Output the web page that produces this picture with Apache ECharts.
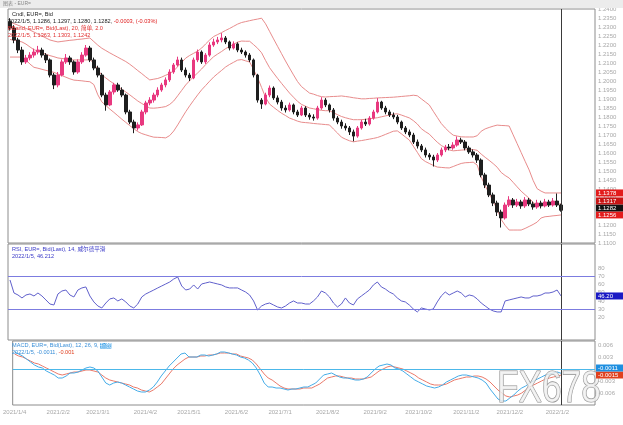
<!DOCTYPE html>
<html><head><meta charset="utf-8">
<script src="https://cdn.jsdelivr.net/npm/echarts@6/dist/echarts.min.js"></script>
<style>html,body{margin:0;padding:0;background:#fff}#c{width:623px;height:425px}</style>
</head><body><div id="c"></div>
<script>
const categories = ["2021/1/4","2021/1/7","2021/1/9","2021/1/12","2021/1/15","2021/1/17","2021/1/20","2021/1/23","2021/1/25","2021/1/28",
"2021/1/31","2021/2/2","2021/2/5","2021/2/7","2021/2/10","2021/2/13","2021/2/15","2021/2/18","2021/2/21","2021/2/23",
"2021/2/26","2021/3/1","2021/3/3","2021/3/6","2021/3/9","2021/3/11","2021/3/14","2021/3/17","2021/3/19","2021/3/22",
"2021/3/25","2021/3/27","2021/3/30","2021/4/2","2021/4/4","2021/4/7","2021/4/9","2021/4/12","2021/4/15","2021/4/17",
"2021/4/20","2021/4/23","2021/4/25","2021/4/28","2021/5/1","2021/5/3","2021/5/6","2021/5/9","2021/5/11","2021/5/14",
"2021/5/17","2021/5/19","2021/5/22","2021/5/25","2021/5/27","2021/5/30","2021/6/2","2021/6/4","2021/6/7","2021/6/9",
"2021/6/12","2021/6/15","2021/6/17","2021/6/20","2021/6/23","2021/6/25","2021/6/28","2021/7/1","2021/7/3","2021/7/6",
"2021/7/9","2021/7/11","2021/7/14","2021/7/17","2021/7/19","2021/7/22","2021/7/25","2021/7/27","2021/7/30","2021/8/2",
"2021/8/4","2021/8/7","2021/8/9","2021/8/12","2021/8/15","2021/8/17","2021/8/20","2021/8/23","2021/8/25","2021/8/28",
"2021/8/31","2021/9/2","2021/9/5","2021/9/8","2021/9/10","2021/9/13","2021/9/16","2021/9/18","2021/9/21","2021/9/24",
"2021/9/26","2021/9/29","2021/10/2","2021/10/4","2021/10/7","2021/10/9","2021/10/12","2021/10/15","2021/10/17","2021/10/20",
"2021/10/23","2021/10/25","2021/10/28","2021/10/31","2021/11/2","2021/11/5","2021/11/8","2021/11/10","2021/11/13","2021/11/16",
"2021/11/18","2021/11/21","2021/11/24","2021/11/26","2021/11/29","2021/12/2","2021/12/4","2021/12/7","2021/12/9","2021/12/12",
"2021/12/15","2021/12/17","2021/12/20","2021/12/23","2021/12/25","2021/12/28","2021/12/31","2022/1/2","2022/1/5"];

const opens = [1.2330,1.2294,1.2228,1.2172,1.2106,1.2128,1.2144,1.2161,1.2172,1.2144,
1.2117,1.2033,1.1978,1.2033,1.2106,1.2128,1.2106,1.2050,1.2106,1.2144,
1.2183,1.2117,1.2072,1.2033,1.1922,1.1867,1.1939,1.1978,1.1950,1.1922,
1.1828,1.1772,1.1739,1.1756,1.1828,1.1878,1.1894,1.1922,1.1950,1.1978,
1.2006,1.2050,1.2089,1.2117,1.2061,1.2033,1.2017,1.2117,1.2161,1.2106,
1.2144,1.2200,1.2217,1.2228,1.2239,1.2217,1.2183,1.2206,1.2172,1.2161,
1.2144,1.2117,1.2033,1.1894,1.1872,1.1922,1.1961,1.1906,1.1883,1.1850,
1.1839,1.1867,1.1828,1.1811,1.1850,1.1811,1.1800,1.1794,1.1850,1.1894,
1.1867,1.1839,1.1794,1.1772,1.1750,1.1739,1.1717,1.1694,1.1739,1.1772,
1.1761,1.1794,1.1828,1.1883,1.1850,1.1828,1.1811,1.1800,1.1772,1.1739,
1.1717,1.1700,1.1661,1.1639,1.1617,1.1589,1.1578,1.1561,1.1589,1.1617,
1.1633,1.1628,1.1644,1.1672,1.1661,1.1628,1.1606,1.1589,1.1561,1.1478,
1.1422,1.1367,1.1322,1.1272,1.1239,1.1311,1.1339,1.1311,1.1328,1.1306,
1.1339,1.1317,1.1300,1.1322,1.1306,1.1328,1.1311,1.1333,1.1311];

const closes = [1.2294,1.2228,1.2172,1.2106,1.2128,1.2144,1.2161,1.2172,1.2144,1.2117,
1.2033,1.1978,1.2033,1.2106,1.2128,1.2106,1.2050,1.2106,1.2144,1.2183,
1.2117,1.2072,1.2033,1.1922,1.1867,1.1939,1.1978,1.1950,1.1922,1.1828,
1.1772,1.1739,1.1756,1.1828,1.1878,1.1894,1.1922,1.1950,1.1978,1.2006,
1.2050,1.2089,1.2117,1.2061,1.2033,1.2017,1.2117,1.2161,1.2106,1.2144,
1.2200,1.2217,1.2228,1.2239,1.2217,1.2183,1.2206,1.2172,1.2161,1.2144,
1.2117,1.2033,1.1894,1.1872,1.1922,1.1961,1.1906,1.1883,1.1850,1.1839,
1.1867,1.1828,1.1811,1.1850,1.1811,1.1800,1.1794,1.1850,1.1894,1.1867,
1.1839,1.1794,1.1772,1.1750,1.1739,1.1717,1.1694,1.1739,1.1772,1.1761,
1.1794,1.1828,1.1883,1.1850,1.1828,1.1811,1.1800,1.1772,1.1739,1.1717,
1.1700,1.1661,1.1639,1.1617,1.1589,1.1578,1.1561,1.1589,1.1617,1.1633,
1.1628,1.1644,1.1672,1.1661,1.1628,1.1606,1.1589,1.1561,1.1478,1.1422,
1.1367,1.1322,1.1272,1.1239,1.1311,1.1339,1.1311,1.1328,1.1306,1.1339,
1.1317,1.1300,1.1322,1.1306,1.1328,1.1311,1.1333,1.1311,1.1282];

const highs = [1.2349,1.2310,1.2240,1.2190,1.2145,1.2160,1.2180,1.2195,1.2185,1.2155,
1.2125,1.2045,1.2050,1.2120,1.2150,1.2140,1.2115,1.2120,1.2160,1.2200,
1.2195,1.2130,1.2085,1.2045,1.1935,1.1950,1.1990,1.1990,1.1965,1.1930,
1.1840,1.1785,1.1770,1.1840,1.1890,1.1910,1.1935,1.1965,1.1990,1.2020,
1.2065,1.2100,1.2135,1.2130,1.2075,1.2045,1.2130,1.2175,1.2170,1.2155,
1.2215,1.2235,1.2245,1.2266,1.2250,1.2225,1.2220,1.2215,1.2185,1.2170,
1.2155,1.2125,1.2040,1.1905,1.1935,1.1975,1.1970,1.1920,1.1895,1.1865,
1.1880,1.1875,1.1840,1.1862,1.1860,1.1822,1.1815,1.1862,1.1910,1.1905,
1.1875,1.1850,1.1805,1.1785,1.1765,1.1750,1.1730,1.1750,1.1785,1.1790,
1.1805,1.1840,1.1905,1.1890,1.1862,1.1840,1.1825,1.1812,1.1780,1.1750,
1.1730,1.1712,1.1675,1.1650,1.1630,1.1600,1.1590,1.1600,1.1630,1.1645,
1.1650,1.1660,1.1692,1.1685,1.1672,1.1640,1.1620,1.1600,1.1570,1.1490,
1.1435,1.1380,1.1335,1.1285,1.1325,1.1360,1.1350,1.1345,1.1340,1.1355,
1.1350,1.1330,1.1340,1.1335,1.1345,1.1340,1.1350,1.1375,1.1318];

const lows = [1.2280,1.2210,1.2155,1.2090,1.2095,1.2115,1.2130,1.2148,1.2130,1.2100,
1.2020,1.1955,1.1965,1.2025,1.2095,1.2090,1.2035,1.2040,1.2095,1.2135,
1.2105,1.2060,1.2020,1.1910,1.1835,1.1860,1.1925,1.1940,1.1910,1.1815,
1.1760,1.1710,1.1725,1.1750,1.1815,1.1865,1.1880,1.1910,1.1940,1.1965,
1.1995,1.2040,1.2080,1.2050,1.2020,1.2000,1.2010,1.2105,1.2095,1.2095,
1.2135,1.2190,1.2205,1.2215,1.2205,1.2170,1.2175,1.2160,1.2150,1.2130,
1.2105,1.2020,1.1880,1.1845,1.1865,1.1910,1.1895,1.1870,1.1835,1.1825,
1.1830,1.1815,1.1800,1.1805,1.1800,1.1785,1.1780,1.1785,1.1840,1.1855,
1.1825,1.1780,1.1760,1.1735,1.1725,1.1700,1.1665,1.1685,1.1730,1.1750,
1.1752,1.1785,1.1820,1.1840,1.1815,1.1800,1.1788,1.1760,1.1728,1.1705,
1.1688,1.1650,1.1625,1.1605,1.1575,1.1562,1.1525,1.1550,1.1580,1.1605,
1.1615,1.1618,1.1635,1.1650,1.1615,1.1595,1.1575,1.1545,1.1465,1.1405,
1.1355,1.1305,1.1250,1.1186,1.1230,1.1300,1.1295,1.1300,1.1290,1.1295,
1.1305,1.1285,1.1290,1.1292,1.1298,1.1300,1.1302,1.1300,1.1274];

const bbUpper = [1.2328,1.2319,1.2310,1.2301,1.2292,1.2283,1.2272,1.2261,1.2250,1.2239,
1.2228,1.2222,1.2217,1.2220,1.2223,1.2226,1.2228,1.2231,1.2233,1.2236,
1.2239,1.2219,1.2199,1.2182,1.2169,1.2156,1.2144,1.2132,1.2120,1.2108,
1.2093,1.2076,1.2058,1.2041,1.2023,1.2006,1.2010,1.2014,1.2022,1.2032,
1.2042,1.2056,1.2080,1.2103,1.2127,1.2142,1.2154,1.2166,1.2183,1.2206,
1.2228,1.2247,1.2258,1.2269,1.2281,1.2292,1.2304,1.2316,1.2325,1.2330,
1.2335,1.2340,1.2344,1.2349,1.2318,1.2276,1.2234,1.2193,1.2152,1.2111,
1.2072,1.2034,1.1997,1.1969,1.1951,1.1933,1.1927,1.1919,1.1913,1.1911,
1.1913,1.1914,1.1915,1.1917,1.1914,1.1911,1.1907,1.1904,1.1901,1.1901,
1.1903,1.1904,1.1906,1.1907,1.1908,1.1909,1.1910,1.1912,1.1914,1.1916,
1.1918,1.1921,1.1918,1.1901,1.1884,1.1867,1.1832,1.1798,1.1764,1.1739,
1.1717,1.1699,1.1694,1.1690,1.1689,1.1689,1.1689,1.1696,1.1721,1.1734,
1.1742,1.1749,1.1755,1.1753,1.1752,1.1750,1.1701,1.1652,1.1603,1.1554,
1.1506,1.1448,1.1402,1.1388,1.1378,1.1378,1.1378,1.1378,1.1378];

const bbMid = [1.2231,1.2226,1.2222,1.2217,1.2205,1.2189,1.2174,1.2166,1.2158,1.2149,
1.2141,1.2135,1.2128,1.2125,1.2122,1.2119,1.2117,1.2117,1.2117,1.2117,
1.2118,1.2100,1.2061,1.2033,1.2017,1.2000,1.1985,1.1970,1.1954,1.1939,
1.1923,1.1906,1.1889,1.1875,1.1862,1.1850,1.1849,1.1851,1.1854,1.1858,
1.1870,1.1889,1.1918,1.1948,1.1978,1.2002,1.2024,1.2045,1.2067,1.2091,
1.2114,1.2135,1.2150,1.2164,1.2180,1.2192,1.2204,1.2216,1.2222,1.2221,
1.2221,1.2202,1.2182,1.2157,1.2114,1.2074,1.2044,1.2015,1.1987,1.1960,
1.1933,1.1910,1.1887,1.1870,1.1860,1.1850,1.1846,1.1841,1.1837,1.1835,
1.1835,1.1824,1.1813,1.1803,1.1796,1.1790,1.1785,1.1785,1.1785,1.1787,
1.1790,1.1793,1.1796,1.1801,1.1806,1.1811,1.1816,1.1818,1.1811,1.1803,
1.1795,1.1780,1.1761,1.1735,1.1719,1.1705,1.1682,1.1660,1.1642,1.1629,
1.1617,1.1612,1.1614,1.1616,1.1618,1.1618,1.1619,1.1615,1.1594,1.1576,
1.1559,1.1541,1.1521,1.1492,1.1475,1.1461,1.1437,1.1412,1.1388,1.1368,
1.1349,1.1326,1.1309,1.1314,1.1312,1.1313,1.1315,1.1316,1.1317];

const bbLower = [1.2133,1.2133,1.2133,1.2133,1.2117,1.2094,1.2076,1.2071,1.2065,1.2059,
1.2054,1.2048,1.2039,1.2030,1.2021,1.2012,1.2005,1.2003,1.2001,1.1998,
1.1996,1.1980,1.1923,1.1884,1.1864,1.1844,1.1826,1.1807,1.1788,1.1770,
1.1752,1.1735,1.1719,1.1708,1.1701,1.1694,1.1688,1.1687,1.1686,1.1684,
1.1697,1.1722,1.1756,1.1793,1.1829,1.1862,1.1893,1.1923,1.1951,1.1975,
1.1999,1.2022,1.2041,1.2059,1.2078,1.2092,1.2104,1.2116,1.2119,1.2112,
1.2106,1.2064,1.2019,1.1964,1.1909,1.1872,1.1854,1.1837,1.1821,1.1808,
1.1794,1.1786,1.1777,1.1771,1.1769,1.1767,1.1764,1.1762,1.1760,1.1758,
1.1756,1.1733,1.1711,1.1688,1.1677,1.1668,1.1662,1.1666,1.1669,1.1673,
1.1677,1.1681,1.1686,1.1694,1.1703,1.1712,1.1721,1.1723,1.1707,1.1689,
1.1672,1.1638,1.1604,1.1569,1.1553,1.1542,1.1531,1.1522,1.1520,1.1518,
1.1517,1.1525,1.1534,1.1542,1.1546,1.1547,1.1549,1.1533,1.1467,1.1418,
1.1375,1.1332,1.1286,1.1231,1.1198,1.1172,1.1172,1.1172,1.1172,1.1181,
1.1192,1.1203,1.1216,1.1239,1.1246,1.1248,1.1251,1.1253,1.1256];

const rsi = [65.5,49.8,47.4,43.8,47.4,48.6,46.2,49.8,46.2,41.4,
36.5,35.3,48.6,52.2,53.4,47.4,45.0,53.4,55.9,57.1,
46.2,39.0,34.1,31.7,37.7,42.6,43.8,40.2,42.6,39.0,
34.1,31.7,36.5,45.0,48.6,51.0,53.4,55.9,58.3,60.7,
63.1,66.7,69.1,58.3,53.4,54.6,59.5,54.6,60.7,61.9,
63.1,61.9,60.7,59.5,57.1,55.9,55.9,55.9,53.4,51.0,
47.4,40.2,29.3,34.1,36.5,37.7,35.3,32.9,31.7,34.1,
37.7,40.2,37.7,37.7,36.5,36.5,40.2,45.0,52.2,49.8,
45.0,37.7,32.9,36.5,43.8,37.7,35.3,42.6,46.2,49.8,
53.4,59.5,63.1,57.1,54.6,51.0,48.6,43.8,40.2,39.0,
35.3,30.5,26.9,31.7,30.5,29.3,30.5,39.0,46.2,51.0,
47.4,49.8,52.2,49.8,45.0,47.4,46.2,42.6,37.7,34.1,
30.5,28.1,26.9,26.9,40.2,41.4,42.6,43.8,45.0,43.8,
43.8,46.2,46.2,47.4,49.8,49.8,51.0,53.4,46.2];

const macd = [0.00425,0.00375,0.00325,0.0025,0.00175,0.001,0.0005,0.00025,-0.0005,-0.001,
-0.0015,-0.00225,-0.00225,-0.00175,-0.001,-0.001,-0.00075,-0.00025,0.00025,0.0005,
0.00025,-0.0005,-0.002,-0.0035,-0.004,-0.0035,-0.00325,-0.0035,-0.004,-0.0045,
-0.005,-0.0055,-0.00575,-0.00575,-0.00525,-0.0045,-0.00325,-0.00175,-0.0005,0.00075,
0.00175,0.00275,0.00375,0.004,0.003,0.003,0.003,0.0035,0.0035,0.00325,
0.0035,0.00375,0.00425,0.00425,0.004,0.00375,0.0035,0.003,0.00275,0.00225,
0.0015,0.00025,-0.0015,-0.0035,-0.0045,-0.0045,-0.00475,-0.00475,-0.005,-0.00525,
-0.005,-0.005,-0.00475,-0.0045,-0.0045,-0.004,-0.0035,-0.0025,-0.0015,-0.00125,
-0.001,-0.0015,-0.002,-0.00225,-0.00225,-0.0025,-0.00275,-0.00275,-0.0025,-0.002,
-0.001,0,0.00075,0.001,0.00125,0.001,0.00025,0,-0.0005,-0.00125,
-0.002,-0.00275,-0.00325,-0.00375,-0.00425,-0.0045,-0.00475,-0.0045,-0.004,-0.00325,
-0.00275,-0.00225,-0.00175,-0.0015,-0.0015,-0.00175,-0.002,-0.00225,-0.00275,-0.0035,
-0.005,-0.00625,-0.0075,-0.008,-0.008,-0.00725,-0.0065,-0.0055,-0.00475,-0.00425,
-0.0035,-0.003,-0.0025,-0.002,-0.0015,-0.00125,-0.001,-0.00075,-0.0011];

const signal = [0.00375,0.00325,0.003,0.0025,0.002,0.0015,0.00125,0.00075,0.00025,-0.00025,
-0.00075,-0.00125,-0.0015,-0.00125,-0.001,-0.00075,-0.00075,-0.0005,-0.00025,-0.00025,
-0.0005,-0.00075,-0.0015,-0.00225,-0.00275,-0.003,-0.00325,-0.0035,-0.00375,-0.004,
-0.0045,-0.00475,-0.00525,-0.0055,-0.00575,-0.00525,-0.0045,-0.00375,-0.0025,-0.00125,
0,0.001,0.00175,0.0025,0.003,0.003,0.003,0.00325,0.00325,0.0035,
0.0035,0.00375,0.004,0.004,0.004,0.00375,0.00375,0.00325,0.003,0.00275,
0.00225,0.00125,0,-0.00125,-0.00225,-0.00275,-0.0035,-0.00425,-0.00475,-0.005,
-0.005,-0.005,-0.005,-0.00475,-0.00475,-0.00475,-0.00425,-0.00375,-0.003,-0.00225,
-0.002,-0.00175,-0.00175,-0.002,-0.00225,-0.00225,-0.0025,-0.0025,-0.0025,-0.00225,
-0.002,-0.00125,-0.0005,0,0.0005,0.00075,0.0005,0.00025,0,-0.0005,
-0.001,-0.0015,-0.00225,-0.00275,-0.00325,-0.00375,-0.004,-0.004,-0.004,-0.00375,
-0.00325,-0.00275,-0.0025,-0.00225,-0.002,-0.002,-0.00175,-0.00175,-0.002,-0.0025,
-0.00325,-0.00425,-0.00525,-0.006,-0.00675,-0.007,-0.00675,-0.0065,-0.006,-0.00525,
-0.0045,-0.004,-0.0035,-0.003,-0.0025,-0.00225,-0.002,-0.00175,-0.0015];

const rsiLevels = [70, 30];
const rsiTicks = [20, 30, 40, 50, 60, 70, 80];
const macdTicks = [-0.006, -0.003, 0, 0.003, 0.006];

const F = "'Liberation Sans','Noto Sans CJK SC',sans-serif";
const last = categories.length - 1;
const lastCat = categories[last];
const candleData = categories.map((_, i) => [opens[i], closes[i], lows[i], highs[i]]);

const chart = echarts.init(document.getElementById('c'), null, {renderer: 'canvas'});
const gridCommon = {left: 8, right: 28, show: true, borderColor: '#8c8c8c', borderWidth: 1, backgroundColor: '#fff'};
const xCommon = {type: 'category', data: categories, max: 146, boundaryGap: true,
  axisLine: {show: false}, axisTick: {show: false}, splitLine: {show: false}, axisLabel: {show: false}};
const yCommon = {position: 'right', scale: true, splitLine: {show: false}, axisLine: {show: false},
  axisTick: {show: false}, axisLabel: {fontSize: 6, color: '#a8a8a8', margin: 3, fontFamily: F}};
const vLine = {xAxis: lastCat, lineStyle: {color: '#3a3a3a', width: 1, type: 'solid'}, label: {show: false}};
const levelLine = (v, color) => ({yAxis: v, lineStyle: {color: color, width: 1, type: 'solid'}, label: {show: false}});

const baseGraphic = [
  {type: 'rect', shape: {x: 0, y: 0, width: 623, height: 8}, style: {fill: '#ececec'}, silent: true, z: 10},
  {type: 'text', x: 3, y: 1, z: 11, style: {text: '图表 - EUR=', font: `5px ${F}`, fill: '#888'}},
  {type: 'text', x: 12, y: 12, z: 11, style: {text: 'Cndl, EUR=, Bid', font: `5.6px ${F}`, fill: '#222'}},
  {type: 'text', x: 8, y: 19, z: 11, style: {text: '{a|2022/1/5, 1.1286, 1.1297, 1.1280, 1.1282,} {b|-0.0003, (-0.03%)}',
    font: `5.6px ${F}`, rich: {a: {fill: '#222', font: `5.6px ${F}`}, b: {fill: '#e02020', font: `5.6px ${F}`}}}},
  {type: 'text', x: 8, y: 26, z: 11, style: {text: 'BBand, EUR=, Bid(Last), 20, 简单, 2.0', font: `5.6px ${F}`, fill: '#e03030'}},
  {type: 'text', x: 8, y: 33, z: 11, style: {text: '2022/1/5, 1.1363, 1.1303, 1.1242', font: `5.6px ${F}`, fill: '#e03030'}},
  {type: 'text', x: 12, y: 247, z: 11, style: {text: 'RSI, EUR=, Bid(Last), 14, 威尔德平滑', font: `5.6px ${F}`, fill: '#3a3ac8'}},
  {type: 'text', x: 12, y: 254, z: 11, style: {text: '2022/1/5, 46.212', font: `5.6px ${F}`, fill: '#3a3ac8'}},
  {type: 'text', x: 12, y: 343, z: 11, style: {text: '{a|MACD, EUR=, Bid(Last), 12, 26, 9,} {h|指数}',
    font: `5.6px ${F}`, rich: {a: {fill: '#3a8fd8', font: `5.6px ${F}`}, h: {fill: '#fff', backgroundColor: '#3aa0e8', font: `5.6px ${F}`}}}},
  {type: 'text', x: 12, y: 350, z: 11, style: {text: '{a|2022/1/5, -0.0011,} {b|-0.001}',
    font: `5.6px ${F}`, rich: {a: {fill: '#3a8fd8', font: `5.6px ${F}`}, b: {fill: '#e04020', font: `5.6px ${F}`}}}},
  {type: 'text', x: 497, y: 368, z: 20, scaleX: 0.8, style: {text: 'FX678', font: `44px ${F}`,
    fill: 'rgba(240,240,240,0.8)', stroke: '#8e8e8e', lineWidth: 1.2}}
];

chart.setOption({
  animation: false,
  backgroundColor: '#fff',
  grid: [
    Object.assign({top: 9, height: 234}, gridCommon),
    Object.assign({top: 244, height: 96}, gridCommon),
    Object.assign({top: 341, height: 64}, gridCommon)
  ],
  xAxis: [
    Object.assign({gridIndex: 0}, xCommon),
    Object.assign({gridIndex: 1}, xCommon),
    Object.assign({}, xCommon, {gridIndex: 2, axisLabel: {show: true, fontSize: 6, color: '#a8a8a8', margin: 4, fontFamily: F,
      interval: (i) => i <= last && (i === 0 || categories[i].split('/')[1] !== categories[i - 1].split('/')[1])}})
  ],
  yAxis: [
    Object.assign({}, yCommon, {gridIndex: 0, min: 1.11, max: 1.24, interval: 0.005,
      axisLabel: Object.assign({}, yCommon.axisLabel, {formatter: (v) => v.toFixed(4)})}),
    Object.assign({}, yCommon, {gridIndex: 1, min: -7, max: 109,
      axisLabel: Object.assign({}, yCommon.axisLabel, {customValues: rsiTicks})}),
    Object.assign({}, yCommon, {gridIndex: 2, min: -0.009, max: 0.007,
      axisLabel: Object.assign({}, yCommon.axisLabel, {customValues: macdTicks, formatter: (v) => v.toFixed(3)})})
  ],
  series: [
    {type: 'line', name: 'upper', xAxisIndex: 0, yAxisIndex: 0, data: bbUpper, symbol: 'none',
      lineStyle: {color: '#e88c8c', width: 1}, z: 2},
    {type: 'line', name: 'mid', xAxisIndex: 0, yAxisIndex: 0, data: bbMid, symbol: 'none',
      lineStyle: {color: '#e88c8c', width: 1}, z: 2},
    {type: 'line', name: 'lower', xAxisIndex: 0, yAxisIndex: 0, data: bbLower, symbol: 'none',
      lineStyle: {color: '#e88c8c', width: 1}, z: 2},
    {type: 'candlestick', name: 'EUR=', xAxisIndex: 0, yAxisIndex: 0, data: candleData, barWidth: 3, z: 3,
      itemStyle: {color: '#e8387f', color0: '#1e1e1e', borderColor: '#e8387f', borderColor0: '#1e1e1e', borderWidth: 1},
      markLine: {symbol: ['none', 'none'], silent: true, data: [vLine]}},
    {type: 'line', name: 'RSI', xAxisIndex: 1, yAxisIndex: 1, data: rsi, symbol: 'none',
      lineStyle: {color: '#6060cc', width: 1},
      markLine: {symbol: ['none', 'none'], silent: true, data: [vLine,
        levelLine(rsiLevels[0], '#7c7ce0'), levelLine(rsiLevels[1], '#7c7ce0')]}},
    {type: 'line', name: 'MACD', xAxisIndex: 2, yAxisIndex: 2, data: macd, symbol: 'none',
      lineStyle: {color: '#45ace8', width: 1}, z: 3,
      markLine: {symbol: ['none', 'none'], silent: true, data: [vLine, levelLine(0, '#4cb8ea')]}},
    {type: 'line', name: 'Signal', xAxisIndex: 2, yAxisIndex: 2, data: signal, symbol: 'none',
      lineStyle: {color: '#ea7a6a', width: 1}, z: 2}
  ],
  graphic: baseGraphic
});

// right-edge value boxes, placed through the axes' own scales and stacked bottom-up so they do not overlap
function valueBoxes(axisIndex, items) {
  const placed = items.map(it => Object.assign({}, it, {y: chart.convertToPixel({yAxisIndex: axisIndex}, it.value)}))
    .sort((a, b) => b.y - a.y);
  for (let k = 1; k < placed.length; k++) placed[k].y = Math.min(placed[k].y, placed[k - 1].y - 7);
  const xr = chart.convertToPixel({xAxisIndex: 0}, categories[0]);
  return placed.map(p => ({type: 'text', x: 596, y: p.y, z: 30, silent: true,
    style: {text: p.text, font: `6px ${F}`, fill: '#fff', backgroundColor: p.bg, padding: [1, 3, 0, 2],
      width: 22, verticalAlign: 'middle', align: 'left'}}));
}
const boxes = [].concat(
  valueBoxes(0, [
    {value: bbUpper[last], text: bbUpper[last].toFixed(4), bg: '#e31b1b'},
    {value: bbMid[last], text: bbMid[last].toFixed(4), bg: '#c81414'},
    {value: closes[last], text: closes[last].toFixed(4), bg: '#111111'},
    {value: bbLower[last], text: bbLower[last].toFixed(4), bg: '#e31b1b'}
  ]),
  valueBoxes(1, [{value: rsi[last], text: rsi[last].toFixed(2), bg: '#1a1ac4'}]),
  valueBoxes(2, [
    {value: macd[last], text: macd[last].toFixed(4), bg: '#1e8fe0'},
    {value: signal[last], text: signal[last].toFixed(4), bg: '#e0401e'}
  ])
);
chart.setOption({graphic: baseGraphic.concat(boxes)});
</script>
</body></html>
